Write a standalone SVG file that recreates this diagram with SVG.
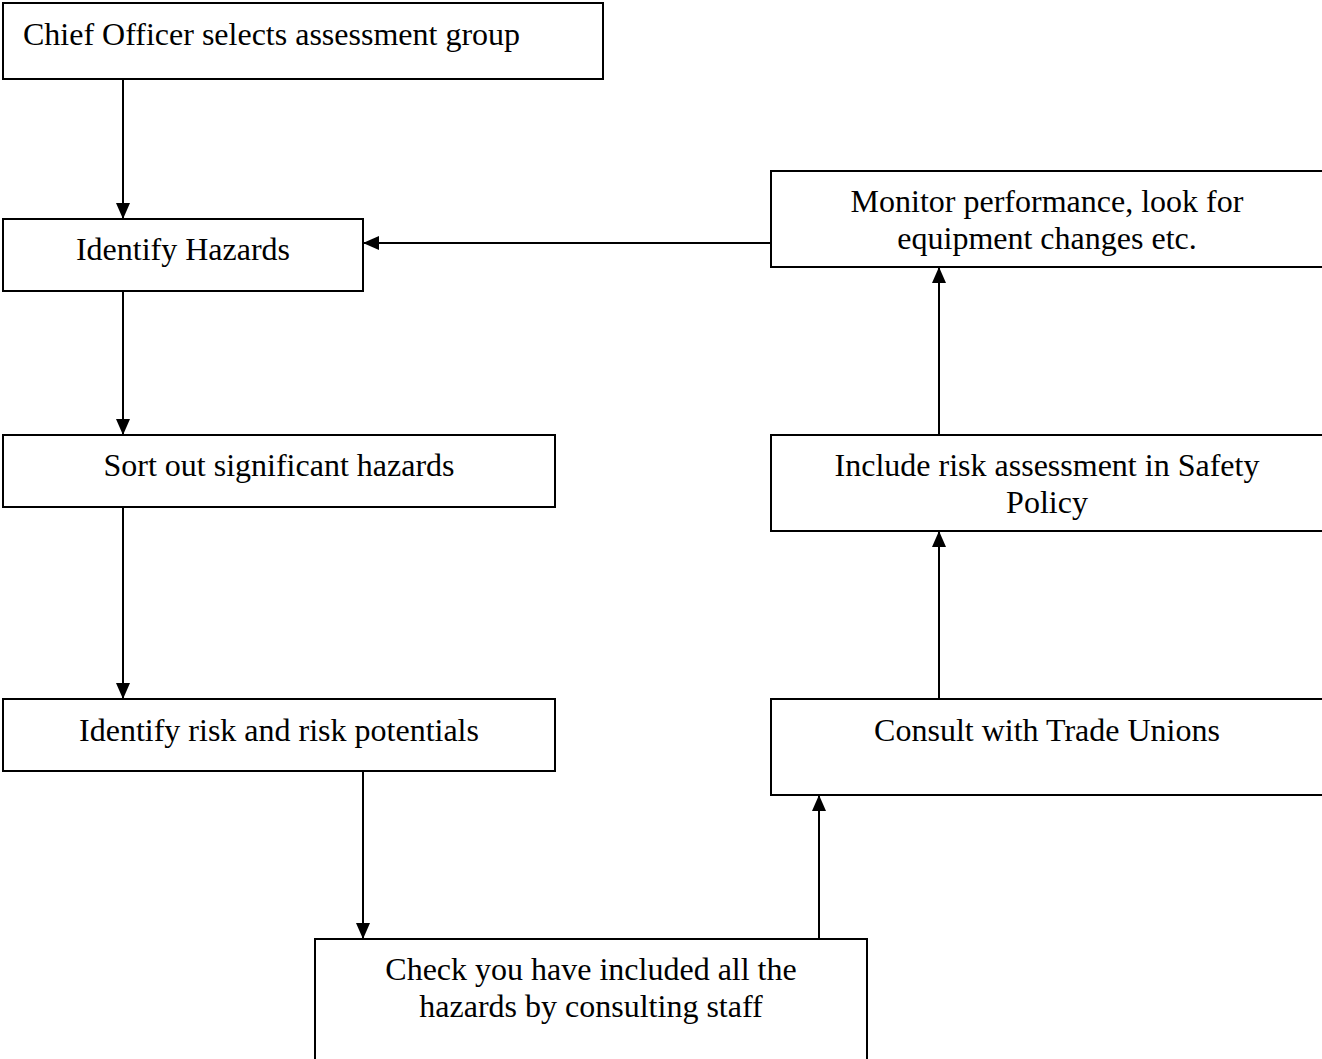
<svg xmlns="http://www.w3.org/2000/svg" width="1322" height="1059" viewBox="0 0 1322 1059">
<style>
.box{fill:#fff;stroke:#000;stroke-width:2}
.t{font-family:"Liberation Serif","Times New Roman",serif;font-size:32px;fill:#000}
.c{text-anchor:middle}
.ln{stroke:#000;stroke-width:2;fill:none}
</style>
<defs>
<marker id="ah" viewBox="0 0 16 14" refX="16" refY="7" markerWidth="16" markerHeight="14" markerUnits="userSpaceOnUse" orient="auto">
<path d="M0,0 L16,7 L0,14 Z" fill="#000"/>
</marker>
</defs>
<rect width="1322" height="1059" fill="#fff"/>
<g id="connectors">
<line class="ln" x1="123" y1="79" x2="123" y2="219" marker-end="url(#ah)"/>
<line class="ln" x1="123" y1="291" x2="123" y2="435" marker-end="url(#ah)"/>
<line class="ln" x1="123" y1="507" x2="123" y2="699" marker-end="url(#ah)"/>
<line class="ln" x1="363" y1="771" x2="363" y2="939" marker-end="url(#ah)"/>
<line class="ln" x1="819" y1="939" x2="819" y2="795" marker-end="url(#ah)"/>
<line class="ln" x1="939" y1="699" x2="939" y2="531" marker-end="url(#ah)"/>
<line class="ln" x1="939" y1="435" x2="939" y2="267" marker-end="url(#ah)"/>
<line class="ln" x1="771" y1="243" x2="363" y2="243" marker-end="url(#ah)"/>
</g>
<g id="n1"><rect class="box" x="3" y="3" width="600" height="76"/><text class="t" x="23" y="45">Chief Officer selects assessment group</text></g>
<g id="n2"><rect class="box" x="3" y="219" width="360" height="72"/><text class="t c" x="183" y="260">Identify Hazards</text></g>
<g id="n3"><rect class="box" x="3" y="435" width="552" height="72"/><text class="t c" x="279" y="476">Sort out significant hazards</text></g>
<g id="n4"><rect class="box" x="3" y="699" width="552" height="72"/><text class="t c" x="279" y="741">Identify risk and risk potentials</text></g>
<g id="n5"><rect class="box" x="315" y="939" width="552" height="130"/><text class="t c" x="591" y="980">Check you have included all the</text><text class="t c" x="591" y="1017">hazards by consulting staff</text></g>
<g id="n6"><rect class="box" x="771" y="699" width="560" height="96"/><text class="t c" x="1047" y="741">Consult with Trade Unions</text></g>
<g id="n7"><rect class="box" x="771" y="435" width="560" height="96"/><text class="t c" x="1047" y="476">Include risk assessment in Safety</text><text class="t c" x="1047" y="513">Policy</text></g>
<g id="n8"><rect class="box" x="771" y="171" width="560" height="96"/><text class="t c" x="1047" y="212">Monitor performance, look for</text><text class="t c" x="1047" y="249">equipment changes etc.</text></g>
</svg>
